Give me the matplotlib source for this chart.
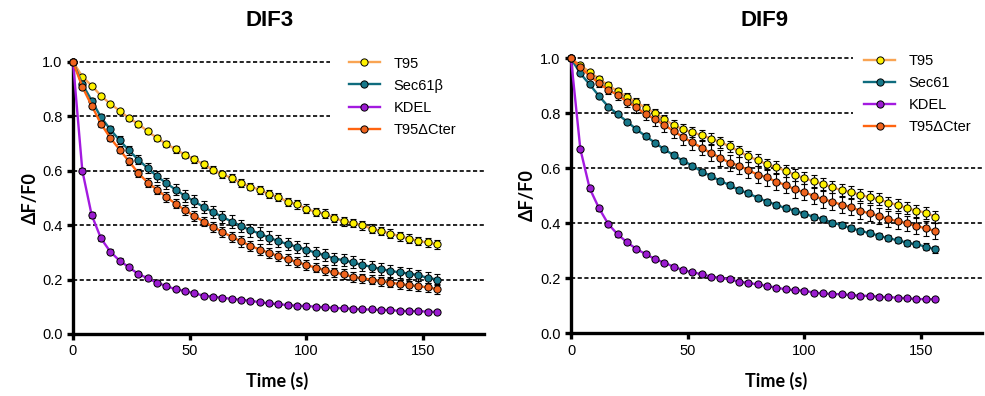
import numpy as np
import matplotlib
matplotlib.use("Agg")
import matplotlib.pyplot as plt

plt.rcParams['font.family'] = ['Liberation Sans', 'DejaVu Sans']

# sampling times (s)
time_s = np.arange(0, 160, 4)

labels_dif3 = ['T95', 'Sec61\u03b2', 'KDEL', 'T95\u0394Cter']
labels_dif9 = ['T95', 'Sec61', 'KDEL', 'T95\u0394Cter']

# DIF3 panel
dif3_t95 = [1.0, 0.945, 0.912, 0.875, 0.845, 0.820, 0.792, 0.772, 0.744, 0.720,
            0.698, 0.678, 0.658, 0.641, 0.623, 0.603, 0.586, 0.573, 0.554, 0.541,
            0.530, 0.513, 0.503, 0.485, 0.476, 0.460, 0.448, 0.442, 0.426, 0.414,
            0.408, 0.399, 0.387, 0.378, 0.369, 0.359, 0.350, 0.342, 0.336, 0.329]
dif3_sec61 = [1.0, 0.918, 0.857, 0.796, 0.751, 0.711, 0.674, 0.640, 0.609, 0.579,
              0.554, 0.530, 0.507, 0.487, 0.466, 0.448, 0.430, 0.413, 0.397, 0.381,
              0.369, 0.354, 0.341, 0.330, 0.320, 0.310, 0.298, 0.289, 0.277, 0.271,
              0.263, 0.253, 0.247, 0.238, 0.232, 0.226, 0.222, 0.216, 0.206, 0.200]
dif3_kdel = [1.0, 0.600, 0.437, 0.351, 0.302, 0.269, 0.245, 0.220, 0.205, 0.188,
             0.176, 0.164, 0.158, 0.149, 0.141, 0.137, 0.133, 0.129, 0.126, 0.122,
             0.117, 0.112, 0.110, 0.106, 0.104, 0.103, 0.100, 0.098, 0.096, 0.094,
             0.093, 0.090, 0.090, 0.088, 0.088, 0.085, 0.084, 0.084, 0.082, 0.081]
dif3_cter = [1.0, 0.908, 0.839, 0.772, 0.720, 0.677, 0.634, 0.591, 0.556, 0.530,
             0.503, 0.478, 0.455, 0.433, 0.413, 0.394, 0.375, 0.357, 0.340, 0.324,
             0.310, 0.298, 0.286, 0.274, 0.265, 0.253, 0.244, 0.234, 0.226, 0.219,
             0.210, 0.204, 0.200, 0.194, 0.189, 0.183, 0.179, 0.176, 0.171, 0.165]

dif3_t95_err = [0, 0.005, 0.006, 0.007, 0.008, 0.008, 0.009, 0.010, 0.010, 0.011,
                0.011, 0.012, 0.012, 0.012, 0.013, 0.013, 0.013, 0.014, 0.014, 0.014,
                0.015, 0.015, 0.015, 0.015, 0.016, 0.016, 0.016, 0.016, 0.016, 0.016,
                0.016, 0.016, 0.016, 0.016, 0.016, 0.016, 0.016, 0.016, 0.016, 0.016]
dif3_sec61_err = [0, 0.008, 0.010, 0.012, 0.014, 0.015, 0.016, 0.017, 0.018, 0.019,
                  0.020, 0.021, 0.021, 0.022, 0.022, 0.022, 0.023, 0.023, 0.023, 0.023,
                  0.023, 0.023, 0.023, 0.023, 0.023, 0.023, 0.022, 0.022, 0.022, 0.022,
                  0.022, 0.021, 0.021, 0.021, 0.021, 0.020, 0.020, 0.020, 0.020, 0.020]
dif3_kdel_err = [0, 0.008, 0.010, 0.010, 0.009, 0.009, 0.008, 0.008, 0.008, 0.007,
                 0.007, 0.007, 0.007, 0.007, 0.006, 0.006, 0.006, 0.006, 0.006, 0.006,
                 0.006, 0.006, 0.006, 0.006, 0.006, 0.006, 0.006, 0.006, 0.006, 0.006,
                 0.006, 0.006, 0.006, 0.006, 0.006, 0.006, 0.006, 0.006, 0.006, 0.006]
dif3_cter_err = [0, 0.007, 0.009, 0.011, 0.012, 0.013, 0.014, 0.015, 0.016, 0.016,
                 0.017, 0.017, 0.018, 0.018, 0.018, 0.018, 0.019, 0.019, 0.019, 0.019,
                 0.019, 0.019, 0.019, 0.019, 0.019, 0.019, 0.018, 0.018, 0.018, 0.018,
                 0.018, 0.018, 0.018, 0.017, 0.017, 0.017, 0.017, 0.017, 0.017, 0.017]

# DIF9 panel
dif9_t95 = [1.0, 0.975, 0.950, 0.925, 0.902, 0.880, 0.860, 0.840, 0.820, 0.800,
            0.778, 0.757, 0.742, 0.731, 0.720, 0.708, 0.695, 0.680, 0.662, 0.643,
            0.630, 0.614, 0.605, 0.590, 0.576, 0.564, 0.553, 0.543, 0.531, 0.520,
            0.514, 0.503, 0.495, 0.487, 0.475, 0.467, 0.455, 0.446, 0.439, 0.424]
dif9_sec61 = [1.0, 0.945, 0.905, 0.863, 0.824, 0.797, 0.770, 0.742, 0.717, 0.693,
              0.669, 0.648, 0.627, 0.610, 0.588, 0.572, 0.554, 0.539, 0.521, 0.509,
              0.493, 0.479, 0.467, 0.455, 0.446, 0.434, 0.424, 0.415, 0.402, 0.394,
              0.382, 0.373, 0.364, 0.355, 0.345, 0.339, 0.329, 0.324, 0.315, 0.305]
dif9_kdel = [1.0, 0.670, 0.527, 0.455, 0.397, 0.360, 0.331, 0.307, 0.288, 0.270,
             0.257, 0.242, 0.230, 0.222, 0.215, 0.206, 0.202, 0.196, 0.188, 0.183,
             0.178, 0.172, 0.166, 0.160, 0.157, 0.155, 0.148, 0.145, 0.143, 0.142,
             0.139, 0.137, 0.136, 0.133, 0.131, 0.130, 0.127, 0.125, 0.124, 0.124]
dif9_cter = [1.0, 0.967, 0.937, 0.909, 0.885, 0.867, 0.842, 0.822, 0.797, 0.779,
             0.757, 0.736, 0.713, 0.694, 0.675, 0.655, 0.639, 0.620, 0.610, 0.593,
             0.577, 0.567, 0.551, 0.539, 0.523, 0.513, 0.500, 0.487, 0.479, 0.467,
             0.459, 0.445, 0.436, 0.427, 0.415, 0.408, 0.400, 0.390, 0.382, 0.372]

dif9_t95_err = [0, 0.006, 0.008, 0.010, 0.011, 0.012, 0.013, 0.014, 0.015, 0.016,
                0.017, 0.017, 0.018, 0.018, 0.019, 0.019, 0.020, 0.020, 0.020, 0.021,
                0.021, 0.021, 0.021, 0.022, 0.022, 0.022, 0.022, 0.022, 0.022, 0.022,
                0.022, 0.022, 0.022, 0.022, 0.022, 0.022, 0.022, 0.022, 0.022, 0.022]
dif9_sec61_err = [0, 0.005, 0.006, 0.007, 0.008, 0.008, 0.009, 0.009, 0.010, 0.010,
                  0.010, 0.010, 0.011, 0.011, 0.011, 0.011, 0.011, 0.011, 0.011, 0.011,
                  0.011, 0.011, 0.011, 0.011, 0.011, 0.011, 0.011, 0.011, 0.011, 0.011,
                  0.011, 0.011, 0.011, 0.011, 0.011, 0.011, 0.011, 0.011, 0.012, 0.012]
dif9_kdel_err = [0, 0.008, 0.009, 0.009, 0.008, 0.008, 0.007, 0.007, 0.007, 0.007,
                 0.006, 0.006, 0.006, 0.006, 0.006, 0.006, 0.006, 0.006, 0.006, 0.006,
                 0.006, 0.006, 0.006, 0.006, 0.006, 0.006, 0.006, 0.006, 0.006, 0.006,
                 0.006, 0.006, 0.006, 0.006, 0.006, 0.006, 0.006, 0.006, 0.006, 0.006]
dif9_cter_err = [0, 0.007, 0.010, 0.013, 0.015, 0.017, 0.019, 0.021, 0.022, 0.024,
                 0.025, 0.026, 0.027, 0.028, 0.028, 0.029, 0.029, 0.030, 0.030, 0.030,
                 0.030, 0.030, 0.030, 0.030, 0.030, 0.030, 0.030, 0.030, 0.030, 0.030,
                 0.030, 0.030, 0.029, 0.029, 0.029, 0.029, 0.028, 0.028, 0.028, 0.028]

line_colors = ['#F9A453', '#0F6C7E', '#A31AE0', '#FF6410']
face_colors = ['#FFF200', '#17788A', '#9B1BD1', '#F0641E']


def draw_panel(ax, values, errors, labels, legend_anchor, grid_stop):
    # dashed reference lines; the top two stop where the legend begins
    for level in [0.2, 0.4, 0.6, 0.8, 1.0]:
        xmax = grid_stop if level >= 0.8 else 1.0
        ax.axhline(level, xmax=xmax, color='black', ls=(0, (2.5, 1.5)),
                   lw=1.2, zorder=1, clip_on=False)
    for y, err, lab, lc, fc in zip(values, errors, labels, line_colors, face_colors):
        ax.errorbar(time_s, y, yerr=err, fmt='none', ecolor='black',
                    elinewidth=0.8, capsize=2.2, capthick=0.8, zorder=3)
        ax.plot(time_s, y, '-', color=lc, lw=1.7, marker='o', ms=5.2,
                mfc=fc, mec='black', mew=0.7, label=lab, zorder=4, clip_on=False)
    ax.set_xlim(0, 176)
    ax.set_ylim(0, 1.0)
    ax.set_xticks([0, 50, 100, 150])
    ax.set_yticks([0.0, 0.2, 0.4, 0.6, 0.8, 1.0])
    ax.set_yticklabels(['0.0', '0.2', '0.4', '0.6', '0.8', '1.0'])
    for side in ['top', 'right']:
        ax.spines[side].set_visible(False)
    for side in ['left', 'bottom']:
        ax.spines[side].set_linewidth(2.4)
    ax.tick_params(axis='both', direction='out', length=4.5, width=2.4,
                   labelsize=10.5, pad=3)
    leg = ax.legend(loc='upper left', bbox_to_anchor=legend_anchor, fontsize=10.5,
                    frameon=False, numpoints=1, handlelength=2.1,
                    handletextpad=0.95, labelspacing=0.55, borderpad=0.9,
                    borderaxespad=0)
    leg.set_zorder(10)


fig = plt.figure(figsize=(9.85, 3.96), dpi=100)
ax1 = fig.add_axes([0.0741, 0.1566, 0.4169, 0.6876])
ax2 = fig.add_axes([0.5797, 0.1583, 0.4169, 0.6944])

draw_panel(ax1, [dif3_t95, dif3_sec61, dif3_kdel, dif3_cter],
           [dif3_t95_err, dif3_sec61_err, dif3_kdel_err, dif3_cter_err],
           labels_dif3, (0.640, 1.067), 0.626)
draw_panel(ax2, [dif9_t95, dif9_sec61, dif9_kdel, dif9_cter],
           [dif9_t95_err, dif9_sec61_err, dif9_kdel_err, dif9_cter_err],
           labels_dif9, (0.682, 1.062), 0.687)

label_font = ['Lato', 'DejaVu Sans']
fig.text(270 / 985, 1 - 20 / 396, 'DIF3', ha='center', va='center',
         fontsize=16, fontweight='bold')
fig.text(765 / 985, 1 - 20 / 396, 'DIF9', ha='center', va='center',
         fontsize=16, fontweight='bold')
fig.text(30 / 985, 1 - 198 / 396, '\u0394F/F0', ha='center', va='center',
         rotation=90, fontsize=13, fontweight='bold', family=label_font)
fig.text(527 / 985, 1 - 195 / 396, '\u0394F/F0', ha='center', va='center',
         rotation=90, fontsize=13, fontweight='bold', family=label_font)
fig.text(277 / 985, 1 - 381 / 396, 'Time (s)', ha='center', va='center',
         fontsize=13, fontweight='bold', family=label_font)
fig.text(776 / 985, 1 - 381 / 396, 'Time (s)', ha='center', va='center',
         fontsize=13, fontweight='bold', family=label_font)

fig.savefig('out.png', dpi=100)
